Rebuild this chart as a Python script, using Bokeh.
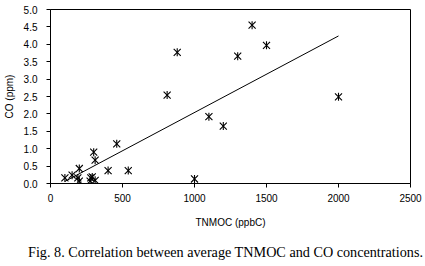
from bokeh.plotting import figure
from bokeh.models import Range1d, NumeralTickFormatter, FixedTicker, Div
from bokeh.layouts import column
from bokeh.embed import file_html
from bokeh.resources import INLINE
import math

# Data
tnmoc = [100, 150, 190, 200, 200, 280, 290, 310, 275, 300, 310, 400, 460, 540,
         810, 880, 1000, 1100, 1200, 1300, 1400, 1500, 2000]
co = [0.16, 0.24, 0.16, 0.07, 0.43, 0.16, 0.19, 0.09, 0.07, 0.90, 0.67, 0.37, 1.14, 0.37,
      2.54, 3.77, 0.13, 1.92, 1.65, 3.66, 4.55, 3.97, 2.49]
trend_x = [100, 2000]
trend_y = [0.06, 4.24]
x_ticks = [0, 500, 1000, 1500, 2000, 2500]
y_ticks = [0.0, 0.5, 1.0, 1.5, 2.0, 2.5, 3.0, 3.5, 4.0, 4.5, 5.0]
x_title = "TNMOC (ppbC)"
y_title = "CO (ppm)"
caption = "Fig. 8. Correlation between average TNMOC and CO concentrations."

p = figure(frame_width=360, frame_height=174, output_backend="svg", toolbar_location=None,
           x_range=Range1d(0, 2500), y_range=Range1d(0, 5))
p.min_border_left = 50
p.min_border_right = 15
p.min_border_top = 9
p.min_border_bottom = 0
p.background_fill_color = "white"
p.border_fill_color = "white"
p.outline_line_color = "black"
p.outline_line_width = 1
p.grid.visible = False

font = "Liberation Sans"
for ax in (p.xaxis[0], p.yaxis[0]):
    ax.axis_line_color = "black"
    ax.major_tick_line_color = "black"
    ax.major_tick_out = 4
    ax.major_tick_in = 0
    ax.minor_tick_line_color = None
    ax.major_label_text_font = font
    ax.major_label_text_font_size = "10px"
    ax.major_label_text_color = "black"
    ax.axis_label_text_font = font
    ax.axis_label_text_font_size = "10px"
    ax.axis_label_text_font_style = "normal"
    ax.axis_label_text_color = "black"

p.xaxis.ticker = FixedTicker(ticks=x_ticks)
p.yaxis.ticker = FixedTicker(ticks=y_ticks)
p.yaxis.formatter = NumeralTickFormatter(format="0.0")
p.xaxis.axis_label = x_title
p.yaxis.axis_label = y_title
p.xaxis.major_label_standoff = 6
p.xaxis.axis_label_standoff = 12
p.yaxis.major_label_standoff = 9
p.yaxis.axis_label_standoff = 6

p.line(trend_x, trend_y, line_color="black", line_width=1)
p.scatter(tnmoc, co, marker="x", size=10, line_color="black", line_width=1.1)
p.scatter(tnmoc, co, marker="dash", angle=math.pi / 2, size=8, line_color="black", line_width=1.1)

cap = Div(text=caption, width=412, margin=(12, 0, 0, 13),
          styles={"text-align": "center", "font-family": "'Liberation Serif', serif",
                  "font-size": "14.2px", "color": "black", "white-space": "nowrap",
                  "width": "100%"})

layout = column(p, cap, spacing=0)
open("out.html", "w").write(file_html(layout, INLINE))
